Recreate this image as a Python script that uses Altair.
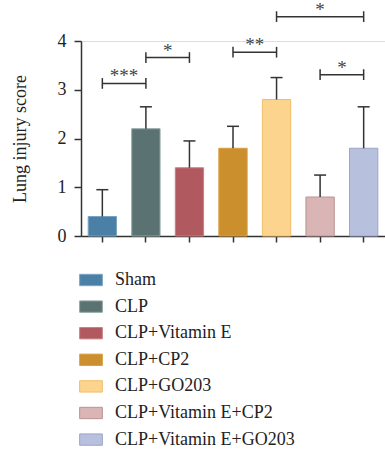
import altair as alt
import pandas as pd

groups = ["Sham", "CLP", "CLP+Vitamin E", "CLP+CP2", "CLP+GO203",
          "CLP+Vitamin E+CP2", "CLP+Vitamin E+GO203"]
means = [0.4, 2.2, 1.4, 1.8, 2.8, 0.8, 1.8]
uppers = [0.95, 2.65, 1.95, 2.25, 3.25, 1.25, 2.65]
fills = ["#4b80a6", "#5a7372", "#b05a5f", "#cc8f2e", "#fdd48e", "#d9b5b5", "#b7c1de"]
strokes = ["#7aa3c2", "#8fa5a4", "#c98086", "#d9a040", "#f0bd6a", "#b89393", "#9aa6c8"]

b_start = [0, 1, 3, 4, 5]
b_end = [1, 2, 4, 6, 6]
b_level = [3.13, 3.66, 3.77, 4.5, 3.31]
b_label = ["***", "*", "**", "*", "*"]

FONT = "Liberation Serif"
INK = "#333333"
PI, PO = 0.35, 0.165
A = PO + (1 - PI) / 2
W, H = 304, 195

bars = pd.DataFrame({"group": groups, "mean": means, "upper": uppers})
br = pd.DataFrame({
    "g1": [groups[i] for i in b_start],
    "g2": [groups[i] for i in b_end],
    "level": b_level,
    "lo": [v - 0.11 for v in b_level],
    "hi": [v + 0.11 for v in b_level],
    "mid": [(s + e) / 2 for s, e in zip(b_start, b_end)],
    "label": b_label,
})
ends = pd.concat([
    br[["g1", "lo", "hi"]].rename(columns={"g1": "g"}),
    br[["g2", "lo", "hi"]].rename(columns={"g2": "g"}),
])

xscale = alt.Scale(domain=groups, paddingInner=PI, paddingOuter=PO)
yscale = alt.Scale(domain=[0, 4], nice=False)

xaxis = alt.Axis(labels=False, title=None, ticks=True, tickSize=6, grid=False)
yaxis = alt.Axis(values=[0, 1, 2, 3, 4], title="Lung injury score", grid=False,
                 tickSize=7, labelPadding=8, titlePadding=28)

legend = alt.Legend(title=None, orient="none", legendX=-2, legendY=227,
                    symbolType="M-1,-0.5H1V0.5H-1Z", symbolSize=515,
                    symbolStrokeWidth=1, labelFont=FONT, labelFontSize=18,
                    labelColor="#222222", rowPadding=5.6, labelOffset=12,
                    labelLimit=400, padding=0, symbolOpacity=1)

base = alt.Chart(bars)

bar = base.mark_bar(strokeWidth=1).encode(
    x=alt.X("group:N", sort=groups, scale=xscale, axis=xaxis),
    y=alt.Y("mean:Q", scale=yscale, axis=yaxis),
    fill=alt.Fill("group:N", sort=groups, scale=alt.Scale(domain=groups, range=fills), legend=legend),
    stroke=alt.Stroke("group:N", sort=groups, scale=alt.Scale(domain=groups, range=strokes), legend=legend),
)

err = base.mark_rule(color=INK, strokeWidth=1.5).encode(
    x=alt.X("group:N", sort=groups, bandPosition=0.5),
    y="mean:Q",
    y2="upper:Q",
)
cap = base.mark_rule(color=INK, strokeWidth=1.5, xOffset=-6, x2Offset=6).encode(
    x=alt.X("group:N", sort=groups, bandPosition=0.5),
    x2=alt.X2("group:N", bandPosition=0.5),
    y="upper:Q",
)

hline = alt.Chart(br).mark_rule(color=INK, strokeWidth=1.5).encode(
    x=alt.X("g1:N", bandPosition=0.5),
    x2=alt.X2("g2:N", bandPosition=0.5),
    y="level:Q",
)
vend = alt.Chart(ends).mark_rule(color=INK, strokeWidth=1.5).encode(
    x=alt.X("g:N", bandPosition=0.5),
    y="lo:Q",
    y2="hi:Q",
)

stars = alt.Chart(br).mark_text(font=FONT, fontSize=19, color="#444444",
                                baseline="alphabetic", align="center", dy=-1).encode(
    x=alt.X("mid:Q", scale=alt.Scale(domain=[-A, len(groups) - 1 + A], nice=False, zero=False), axis=None),
    y=alt.Y("level:Q", scale=yscale, axis=yaxis),
    text="label:N",
)

main = alt.layer(bar, err, cap, hline, vend)
chart = alt.layer(main, stars).resolve_scale(x="independent").properties(
    width=W, height=H,
    autosize=alt.AutoSizeParams(type="none"),
    padding={"left": 81, "top": 41, "right": 0, "bottom": 215},
).configure_view(stroke=None).configure(background="white").configure_axis(
    labelFont=FONT, labelFontSize=18, labelColor="#222222",
    titleFont=FONT, titleFontSize=18, titleFontWeight="normal", titleColor="#222222",
    domainColor=INK, tickColor=INK, domainWidth=1.5, tickWidth=1.5,
)

chart.save("out.html", embed_options={"renderer": "svg", "actions": False})
